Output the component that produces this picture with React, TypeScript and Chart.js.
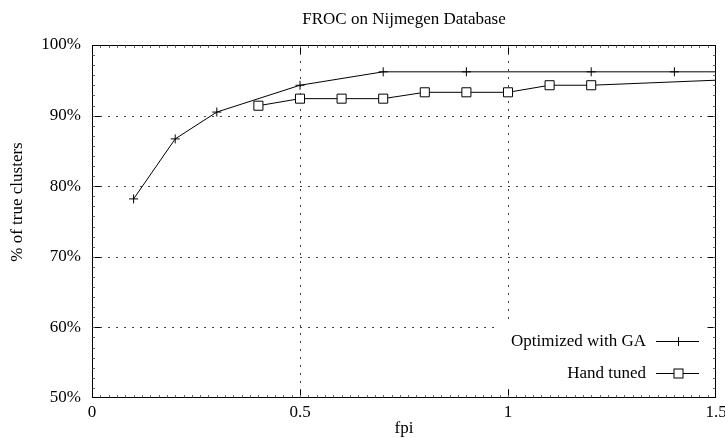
import React, { useEffect, useRef } from 'react';
import { Chart, registerables } from 'chart.js';

Chart.register(...registerables);

const chartTitle = 'FROC on Nijmegen Database';
const xAxisTitle = 'fpi';
const yAxisTitle = '% of true clusters';
const gaLabel = 'Optimized with GA';
const handLabel = 'Hand tuned';

const gaFpi = [0.1, 0.2, 0.3, 0.5, 0.7, 0.9, 1.2, 1.4, 1.7];
const gaPct = [78.2, 86.7, 90.5, 94.3, 96.2, 96.2, 96.2, 96.2, 96.2];
const handFpi = [0.4, 0.5, 0.6, 0.7, 0.8, 0.9, 1.0, 1.1, 1.2, 2.0];
const handPct = [91.4, 92.4, 92.4, 92.4, 93.3, 93.3, 93.3, 94.3, 94.3, 96.2];

const xGridValues = [0.5, 1.0];
const yGridValues = [60, 70, 80, 90];

const FONT = '"Liberation Serif", "Times New Roman", serif';
const FONT_SIZE = 17;

const decorPlugin = {
  id: 'decor',
  beforeDatasetsDraw(chart: any) {
    const { ctx, chartArea: a, scales } = chart;
    const xs = scales.x;
    const ys = scales.y;
    ctx.save();
    // dotted grid
    ctx.strokeStyle = '#444';
    ctx.lineWidth = 1;
    ctx.setLineDash([2, 6]);
    for (const v of xGridValues) {
      const px = Math.round(xs.getPixelForValue(v)) + 0.5;
      ctx.beginPath();
      ctx.moveTo(px, a.top);
      ctx.lineTo(px, a.bottom);
      ctx.stroke();
    }
    for (const v of yGridValues) {
      const py = Math.round(ys.getPixelForValue(v)) + 0.5;
      ctx.beginPath();
      ctx.moveTo(a.left, py);
      ctx.lineTo(a.right, py);
      ctx.stroke();
    }
    ctx.setLineDash([]);

    // legend (opaque key)
    ctx.fillStyle = '#fff';
    ctx.fillRect(a.right - 219, a.bottom - 74, 218, 65);
    ctx.fillStyle = '#000';
    ctx.strokeStyle = '#000';
    ctx.font = `${FONT_SIZE}px ${FONT}`;
    ctx.textAlign = 'right';
    ctx.textBaseline = 'middle';
    const rows = [
      { label: gaLabel, y: a.bottom - 57, style: 'cross' },
      { label: handLabel, y: a.bottom - 25, style: 'rect' },
    ];
    for (const r of rows) {
      ctx.fillText(r.label, a.right - 70, r.y + 1);
      const py = Math.round(r.y) + 0.5;
      ctx.beginPath();
      ctx.moveTo(a.right - 60, py);
      ctx.lineTo(a.right - 17, py);
      ctx.stroke();
      const mx = Math.round(a.right - 38) + 0.5;
      if (r.style === 'cross') {
        ctx.beginPath();
        ctx.moveTo(mx - 4.5, py);
        ctx.lineTo(mx + 4.5, py);
        ctx.moveTo(mx, py - 4.5);
        ctx.lineTo(mx, py + 4.5);
        ctx.stroke();
      } else {
        ctx.fillStyle = '#fff';
        ctx.fillRect(mx - 4.5, py - 4.5, 9, 9);
        ctx.strokeRect(mx - 4.5, py - 4.5, 9, 9);
        ctx.fillStyle = '#000';
      }
    }

    // border box
    const L = Math.round(a.left) + 0.5;
    const R = Math.round(a.right) - 0.5;
    const T = Math.round(a.top) + 0.5;
    const B = Math.round(a.bottom) - 0.5;
    ctx.strokeStyle = '#000';
    ctx.lineWidth = 1;
    ctx.strokeRect(L, T, R - L, B - T);

    // major ticks
    ctx.beginPath();
    for (const v of xGridValues) {
      const px = Math.round(xs.getPixelForValue(v)) + 0.5;
      ctx.moveTo(px, B);
      ctx.lineTo(px, B - 8);
      ctx.moveTo(px, T);
      ctx.lineTo(px, T + 8);
    }
    for (const v of yGridValues) {
      const py = Math.round(ys.getPixelForValue(v)) + 0.5;
      ctx.moveTo(L, py);
      ctx.lineTo(L + 8, py);
      ctx.moveTo(R, py);
      ctx.lineTo(R - 8, py);
    }
    ctx.stroke();

    // minor ticks
    ctx.strokeStyle = '#666';
    ctx.beginPath();
    for (let i = 1; i < 75; i++) {
      const px = Math.round(xs.getPixelForValue(i * 0.02)) + 0.5;
      ctx.moveTo(px, B);
      ctx.lineTo(px, B - 2.5);
      ctx.moveTo(px, T);
      ctx.lineTo(px, T + 2.5);
    }
    for (let i = 1; i < 35; i++) {
      const py = Math.round(ys.getPixelForValue(50 + (i * 10) / 7)) + 0.5;
      ctx.moveTo(L, py);
      ctx.lineTo(L + 2.5, py);
      ctx.moveTo(R, py);
      ctx.lineTo(R - 2.5, py);
    }
    ctx.stroke();
    ctx.restore();
  },
  afterDraw(chart: any) {
    const { ctx, chartArea: a } = chart;
    ctx.save();
    ctx.fillStyle = '#000';
    ctx.font = `${FONT_SIZE}px ${FONT}`;
    ctx.textAlign = 'center';
    ctx.textBaseline = 'alphabetic';
    const cx = (a.left + a.right) / 2;
    ctx.fillText(chartTitle, cx, 24);
    ctx.fillText(xAxisTitle, cx, 433);
    ctx.translate(22, 202);
    ctx.rotate(-Math.PI / 2);
    ctx.fillText(yAxisTitle, 0, 0);
    ctx.restore();
  },
};

export default function App() {
  const canvasRef = useRef<HTMLCanvasElement | null>(null);

  useEffect(() => {
    document.body.style.margin = '0';
    const canvas = canvasRef.current;
    if (!canvas) return;
    const chart = new Chart(canvas, {
      type: 'line',
      data: {
        datasets: [
          {
            label: gaLabel,
            data: gaFpi.map((x, i) => ({ x, y: gaPct[i] })),
            borderColor: '#000',
            borderWidth: 1,
            pointStyle: 'cross',
            pointRadius: 4.5,
            pointBorderWidth: 1,
            pointBorderColor: '#000',
            pointBackgroundColor: '#000',
            tension: 0,
            fill: false,
          },
          {
            label: handLabel,
            data: handFpi.map((x, i) => ({ x, y: handPct[i] })),
            borderColor: '#000',
            borderWidth: 1,
            pointStyle: 'rect',
            pointRadius: 6.4,
            pointBorderWidth: 1,
            pointBorderColor: '#000',
            pointBackgroundColor: '#fff',
            tension: 0,
            fill: false,
          },
        ],
      },
      options: {
        responsive: false,
        animation: false,
        events: [],
        layout: { padding: { top: 45, right: 9, left: 0, bottom: 0 } },
        plugins: {
          legend: { display: false },
          tooltip: { enabled: false },
          title: { display: false },
        },
        scales: {
          x: {
            type: 'linear',
            min: 0,
            max: 1.5,
            grid: { display: false, drawTicks: false },
            border: { display: false },
            ticks: {
              stepSize: 0.5,
              color: '#000',
              padding: 4,
              maxRotation: 0,
              font: { family: FONT, size: FONT_SIZE },
              callback: (v: any) => String(Number(v)),
            },
            afterFit: (s: any) => {
              s.height = 40;
              s.paddingLeft = 0;
              s.paddingRight = 0;
            },
          },
          y: {
            type: 'linear',
            min: 50,
            max: 100,
            grid: { display: false, drawTicks: false },
            border: { display: false },
            ticks: {
              stepSize: 10,
              color: '#000',
              padding: 11,
              font: { family: FONT, size: FONT_SIZE },
              callback: (v: any) => `${v}%`,
            },
            afterFit: (s: any) => {
              s.width = 92;
              s.paddingTop = 0;
              s.paddingBottom = 0;
            },
          },
        },
      },
      plugins: [decorPlugin],
    });
    return () => chart.destroy();
  }, []);

  return (
    <canvas
      ref={canvasRef}
      width={725}
      height={438}
      style={{ display: 'block', width: 725, height: 438 }}
    />
  );
}
